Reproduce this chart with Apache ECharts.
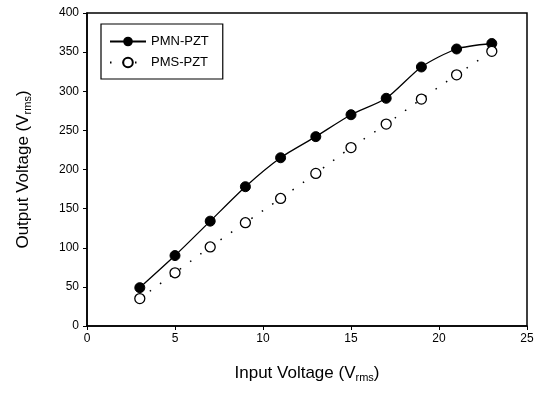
<!DOCTYPE html>
<html><head><meta charset="utf-8">
<script src="https://cdn.jsdelivr.net/npm/echarts@6/dist/echarts.min.js"></script>
<style>html,body{margin:0;padding:0;background:#fff}#c{width:548px;height:395px}</style>
</head><body><div id="c"></div>
<script>
const inputV = [3, 5, 7, 9, 11, 13, 15, 17, 19, 21, 23];
const pmnPzt = [49, 90, 134, 178, 215, 242, 270, 291, 331, 354, 361];
const pmsPzt = [35, 68, 101, 132, 163, 195, 228, 258, 290, 321, 351];
const xTicks = [0, 5, 10, 15, 20, 25];
const yTicks = [0, 50, 100, 150, 200, 250, 300, 350, 400];

const font = 'Liberation Sans, Arial, sans-serif';
const chart = echarts.init(document.getElementById('c'));
chart.setOption({
  animation: false,
  backgroundColor: '#fff',
  grid: { left: 87, right: 21, top: 13, bottom: 69, show: true, borderColor: '#000', borderWidth: 1.5 },
  legend: {
    orient: 'vertical', left: 101, top: 24,
    padding: [11, 14, 10, 8], itemGap: 8, itemWidth: 36, itemHeight: 12,
    borderColor: '#000', borderWidth: 1.2, backgroundColor: '#fff',
    textStyle: { fontFamily: font, fontSize: 13, color: '#000' },
    data: ['PMN-PZT', 'PMS-PZT']
  },
  xAxis: {
    type: 'value', min: 0, max: 25, interval: 5,
    axisLine: { onZero: false, lineStyle: { color: '#000', width: 1.5 } },
    axisTick: { inside: false, length: 4, lineStyle: { color: '#000' } },
    splitLine: { show: false },
    axisLabel: { color: '#000', fontFamily: font, fontSize: 12, margin: 7,
      formatter: v => xTicks.includes(v) ? String(v) : '' },
    name: '{a|Input Voltage (V}{b|rms}{a|)}', nameLocation: 'middle', nameGap: 38,
    nameTextStyle: { rich: { a: { fontFamily: font, fontSize: 17, color: '#000' },
      b: { fontFamily: font, fontSize: 11, color: '#000', verticalAlign: 'bottom', padding: [8, 0, 0, 0] } } }
  },
  yAxis: {
    type: 'value', min: 0, max: 400, interval: 50,
    axisLine: { onZero: false, lineStyle: { color: '#000', width: 1.5 } },
    axisTick: { inside: false, length: 4, lineStyle: { color: '#000' } },
    splitLine: { show: false },
    axisLabel: { color: '#000', fontFamily: font, fontSize: 12, margin: 8,
      formatter: v => yTicks.includes(v) ? String(v) : '' },
    name: '{a|Output Voltage (V}{b|rms}{a|)}', nameLocation: 'middle', nameGap: 54,
    nameTextStyle: { rich: { a: { fontFamily: font, fontSize: 17, color: '#000' },
      b: { fontFamily: font, fontSize: 11, color: '#000', verticalAlign: 'bottom', padding: [8, 0, 0, 0] } } }
  },
  series: [
    {
      name: 'PMN-PZT', type: 'line', smooth: 0.25,
      data: inputV.map((x, i) => [x, pmnPzt[i]]),
      symbol: 'circle', symbolSize: 10,
      itemStyle: { color: '#000', borderColor: '#000' },
      lineStyle: { color: '#000', width: 1.3 }
    },
    {
      name: 'PMS-PZT', type: 'line', smooth: 0.25,
      data: inputV.map((x, i) => [x, pmsPzt[i]]),
      symbol: 'circle', symbolSize: 10,
      itemStyle: { color: '#fff', borderColor: '#000', borderWidth: 1.3 },
      lineStyle: { color: '#000', width: 1.5, type: [1.5, 11] }
    }
  ]
});
</script></body></html>
